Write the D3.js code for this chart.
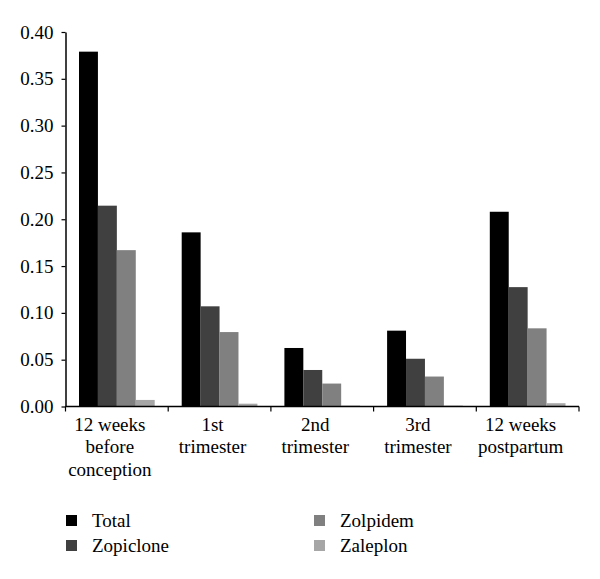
<!DOCTYPE html>
<html><head><meta charset="utf-8">
<script src="https://cdn.jsdelivr.net/npm/d3@7"></script>
<style>body{margin:0;background:#fff}svg{display:block}</style>
</head><body>
<svg id="c" width="600" height="579"></svg>
<script>
const categories = [["12 weeks","before","conception"],["1st","trimester"],["2nd","trimester"],["3rd","trimester"],["12 weeks","postpartum"]];
const seriesNames = ["Total","Zopiclone","Zolpidem","Zaleplon"];
const total     = [0.379, 0.186, 0.0625, 0.081, 0.208];
const zopiclone = [0.2145, 0.107, 0.039, 0.051, 0.1275];
const zolpidem  = [0.167, 0.0795, 0.0245, 0.032, 0.0835];
const zaleplon  = [0.007, 0.003, 0.001, 0.001, 0.0035];
const yTicks = [0,0.05,0.10,0.15,0.20,0.25,0.30,0.35,0.40];
const colors = ["#000000","#404040","#808080","#a6a6a6"];

(function(){
const FONT = "Liberation Serif";
const FS = 19;
const series = [total, zopiclone, zolpidem, zaleplon];
const svg = d3.select("#c");
const mLeft = 65.5, mRight = 579, mTop = 32, mBottom = 406.5;
const y = d3.scaleLinear().domain([0,0.4]).range([mBottom, mTop]);
const x0 = d3.scaleBand().domain(d3.range(categories.length)).range([mLeft, mRight]).paddingInner(0).paddingOuter(0);
const x1 = d3.scaleBand().domain(d3.range(series.length)).range([13.5, x0.bandwidth()-13.5]).padding(0);

const g = svg.append("g");
categories.forEach((c, i) => {
  series.forEach((s, j) => {
    g.append("rect")
      .attr("x", x0(i) + x1(j))
      .attr("y", y(s[i]))
      .attr("width", x1.bandwidth())
      .attr("height", mBottom - y(s[i]))
      .attr("fill", colors[j]);
  });
});

const ya = svg.append("g").attr("transform", `translate(${mLeft},0)`)
  .call(d3.axisLeft(y).tickValues(yTicks).tickFormat(d3.format(".2f")).tickSize(4).tickSizeOuter(0));
ya.attr("font-family", null).attr("font-size", null);
ya.select(".domain").attr("stroke","#000").attr("stroke-width",1.5);
ya.selectAll(".tick line").attr("stroke","#000").attr("stroke-width",1.2);
ya.selectAll(".tick text").attr("fill","#000").attr("x",-12)
  .attr("font-family", FONT).attr("font-size", FS);

const xa = svg.append("g").attr("transform", `translate(0,${mBottom})`);
xa.append("line").attr("x1",mLeft).attr("x2",mRight).attr("stroke","#000").attr("stroke-width",1.5);
d3.range(categories.length+1).forEach(i => {
  const xx = i < categories.length ? x0(i) : mRight;
  xa.append("line").attr("x1",xx).attr("x2",xx).attr("y1",0).attr("y2",5).attr("stroke","#000").attr("stroke-width",1.2);
});
categories.forEach((c, i) => {
  const t = xa.append("text").attr("text-anchor","middle").attr("fill","#000")
    .attr("font-family", FONT).attr("font-size", FS);
  c.forEach((line, k) => {
    t.append("tspan").attr("x", x0(i) + x0.bandwidth()/2 - 7).attr("y", 24 + k*22.5).text(line);
  });
});

const legendPos = [[66,515],[66,540],[314,515],[314,540]];
seriesNames.forEach((n, j) => {
  const [lx, ly] = legendPos[j];
  svg.append("rect").attr("x",lx).attr("y",ly).attr("width",11).attr("height",11).attr("fill",colors[j]);
  svg.append("text").attr("x",lx+26).attr("y",ly+11.5).attr("fill","#000")
    .attr("font-family", FONT).attr("font-size", FS).text(n);
});
})();
</script>
</body></html>
